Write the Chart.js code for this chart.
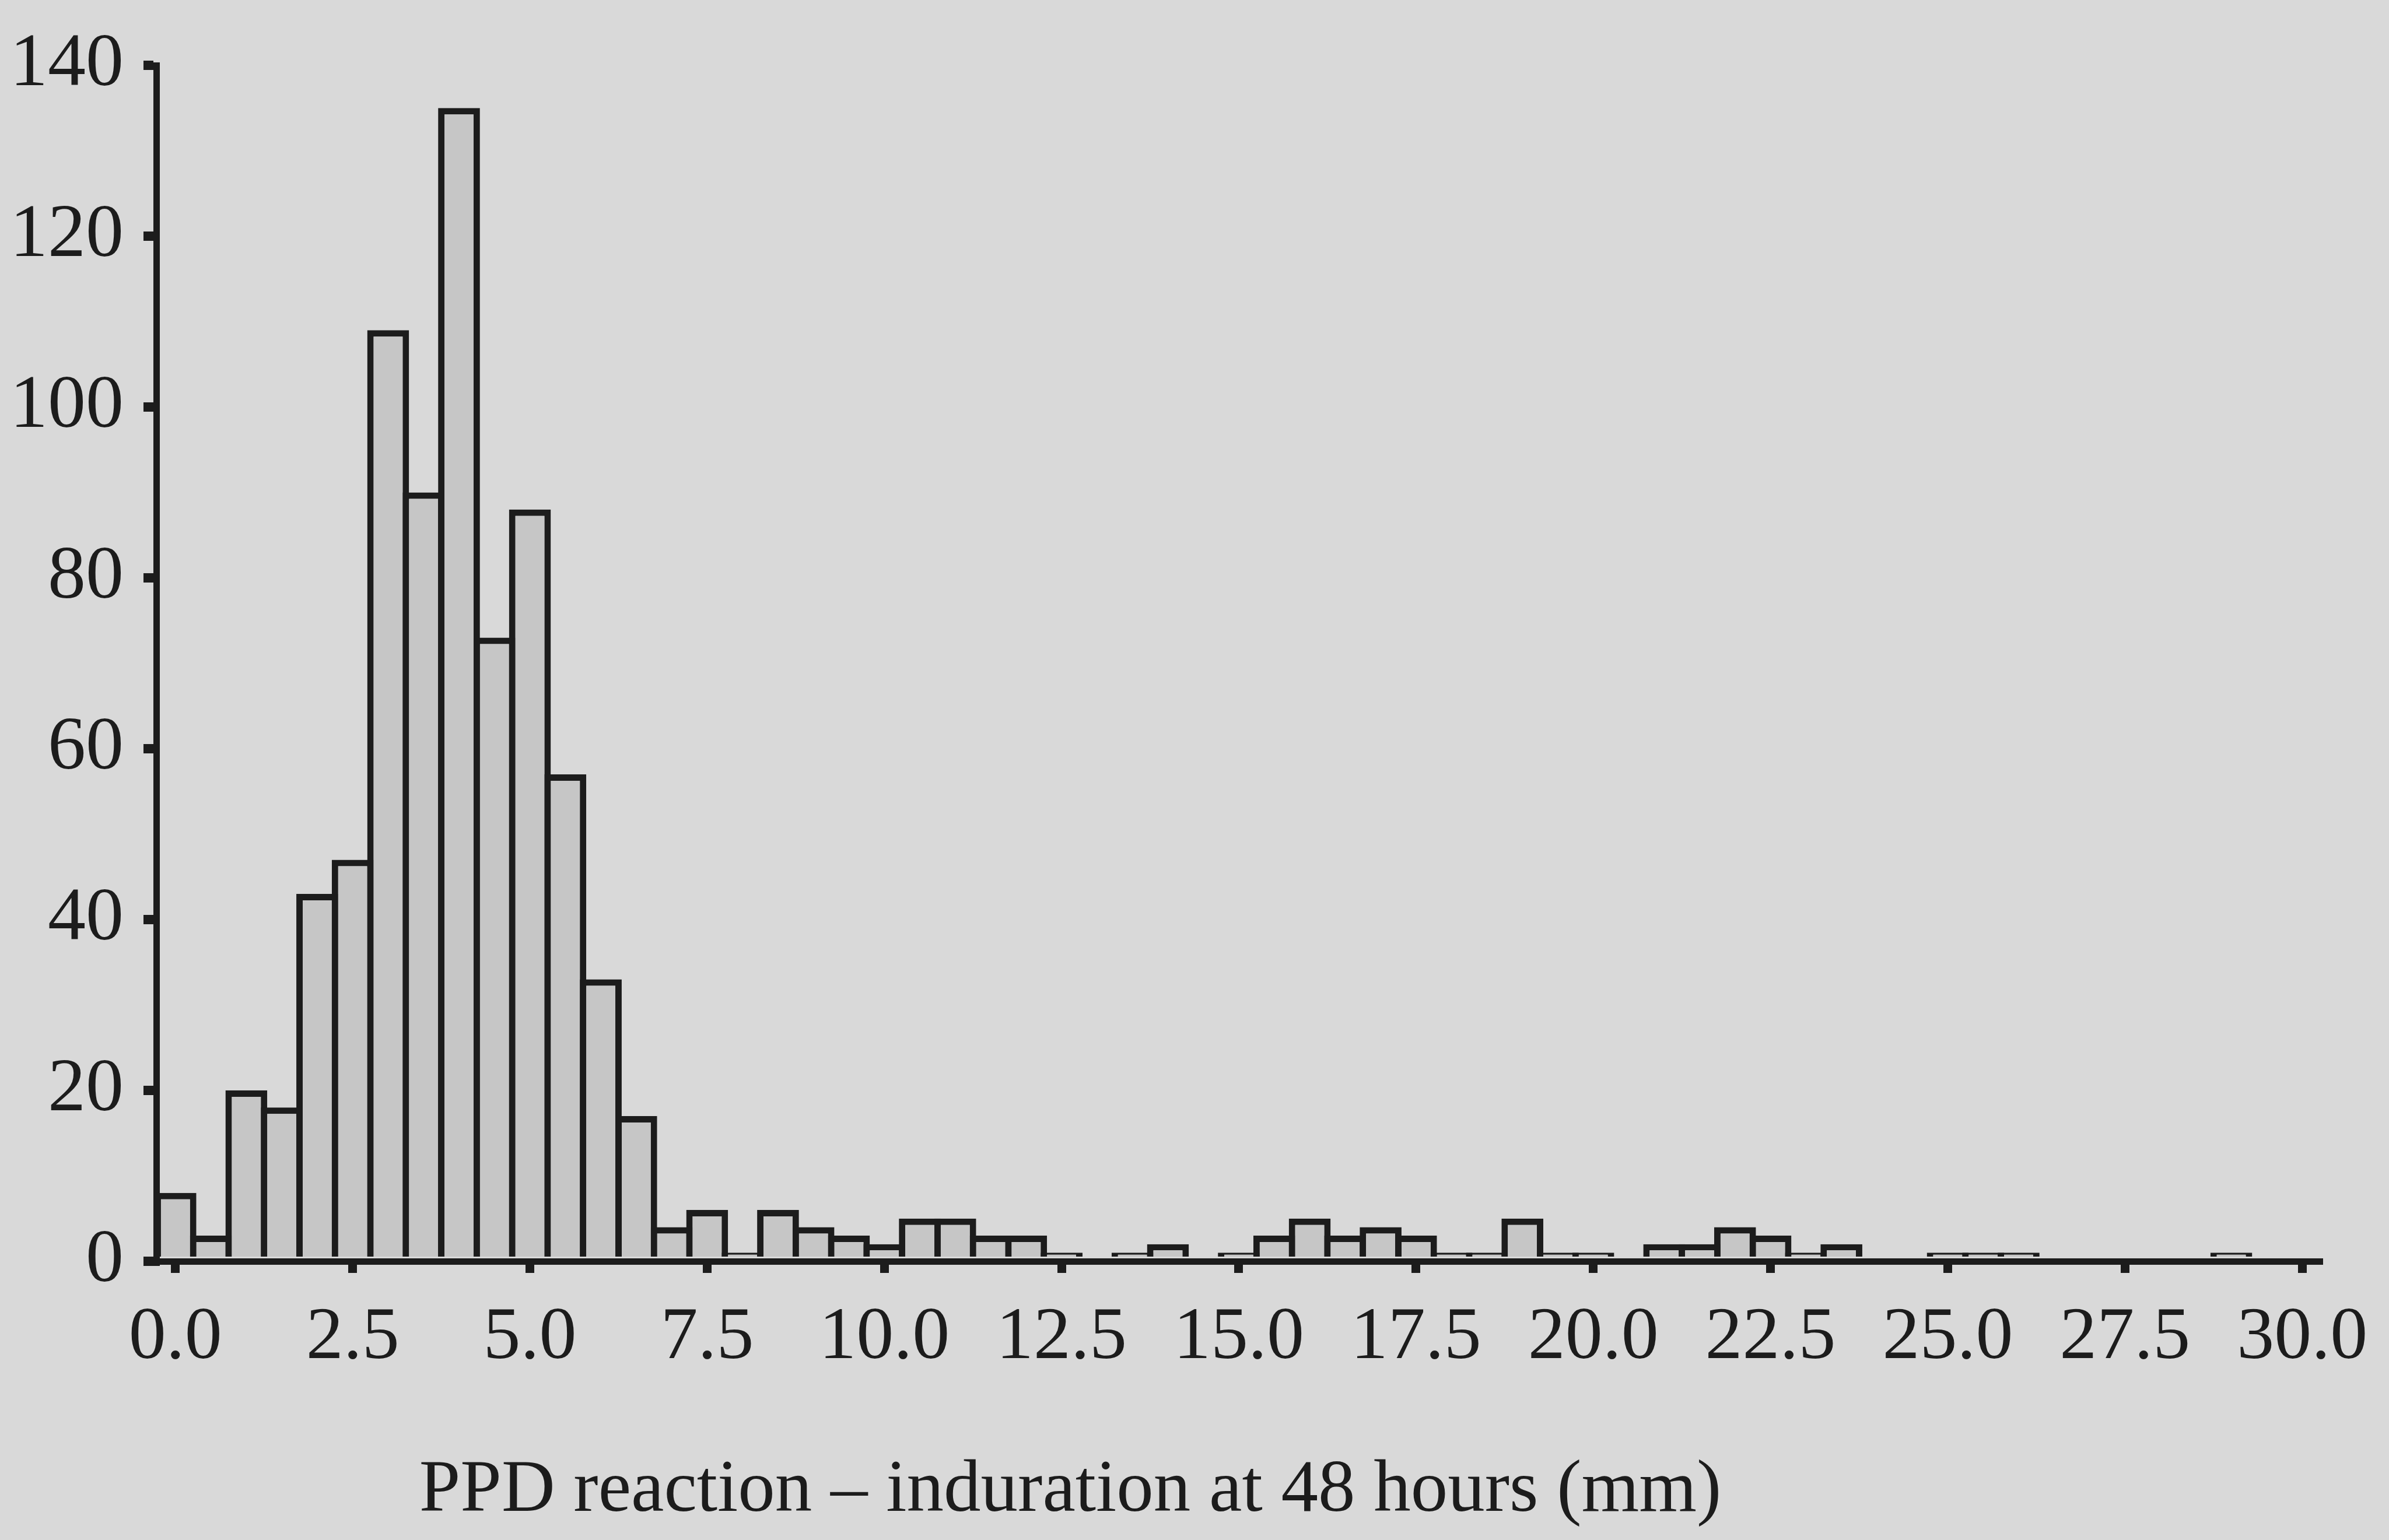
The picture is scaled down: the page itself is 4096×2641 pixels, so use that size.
<!DOCTYPE html>
<html>
<head>
<meta charset="utf-8">
<title>PPD reaction histogram</title>
<script src="https://cdn.jsdelivr.net/npm/chart.js@4.4.1/dist/chart.umd.min.js"></script>
<style>
  html, body { margin: 0; padding: 0; background: #d9d9d9; }
  canvas { display: block; }
</style>
</head>
<body>
<canvas id="histogram" width="4096" height="2641"></canvas>
<script>
// bin centres (mm), each bin is 0.5 mm wide
var binCentres = [
  0.0, 0.5, 1.0, 1.5, 2.0, 2.5, 3.0, 3.5, 4.0, 4.5,
  5.0, 5.5, 6.0, 6.5, 7.0, 7.5, 8.0, 8.5, 9.0, 9.5,
  10.0, 10.5, 11.0, 11.5, 12.0, 12.5, 13.0, 13.5, 14.0, 14.5,
  15.0, 15.5, 16.0, 16.5, 17.0, 17.5, 18.0, 18.5, 19.0, 19.5,
  20.0, 20.5, 21.0, 21.5, 22.0, 22.5, 23.0, 23.5, 24.0, 24.5,
  25.0, 25.5, 26.0, 26.5, 27.0, 27.5, 28.0, 28.5, 29.0, 29.5,
  30.0
];

// number of subjects per bin
var counts = [
  8, 3, 20, 18, 43, 47, 109, 90, 135, 73,
  88, 57, 33, 17, 4, 6, 1, 6, 4, 3,
  2, 5, 5, 3, 3, 1, 0, 1, 2, 0,
  1, 3, 5, 3, 4, 3, 1, 1, 5, 1,
  1, 0, 2, 2, 4, 3, 1, 2, 0, 0,
  1, 1, 1, 0, 0, 0, 0, 0, 1, 0,
  0
];

var yTickStep = 20;
var xTickStep = 2.5;
var xAxisTitle = 'PPD reaction \u2013 induration at 48 hours (mm)';

var ink = '#1c1c1c';
var paper = '#d9d9d9';
var barFill = '#c6c6c6';
var serif = '"Liberation Serif", "Times New Roman", serif';

var points = [];
for (var i = 0; i < binCentres.length; i++) {
  points.push({x: binCentres[i], y: counts[i]});
}

// grey page behind everything
var paperPlugin = {
  id: 'paper',
  beforeDraw: function(chart) {
    var ctx = chart.ctx;
    ctx.save();
    ctx.fillStyle = paper;
    ctx.fillRect(0, 0, chart.width, chart.height);
    ctx.restore();
  }
};

// x axis title sits left of centre in the original, so draw it by hand
var axisTitlePlugin = {
  id: 'axisTitle',
  afterDraw: function(chart) {
    var ctx = chart.ctx;
    ctx.save();
    ctx.fillStyle = ink;
    ctx.font = '127px ' + serif;
    ctx.textAlign = 'center';
    ctx.textBaseline = 'alphabetic';
    ctx.fillText(xAxisTitle, 1835, 2591);
    ctx.restore();
  }
};

var ctx = document.getElementById('histogram').getContext('2d');
var myHist = new Chart(ctx, {
  type: 'bar',
  data: {
    datasets: [{
      data: points,
      backgroundColor: barFill,
      borderColor: ink,
      borderWidth: {top: 11, left: 11, right: 11, bottom: 0},
      borderSkipped: 'start',
      categoryPercentage: 1.0,
      barPercentage: 1.18   // bars overlap by one border so shared edges stay single
    }]
  },
  options: {
    responsive: false,
    animation: false,
    devicePixelRatio: 1,
    layout: {
      padding: {top: 73, right: 112, left: 0, bottom: 0}
    },
    plugins: {
      legend: {display: false},
      tooltip: {enabled: false}
    },
    scales: {
      x: {
        type: 'linear',
        offset: false,
        min: -0.27,
        max: 30.23,
        z: 1,
        afterFit: function(scale) { scale.height = 478; },
        border: {display: true, color: ink, width: 11},
        grid: {
          display: true,
          offset: false,
          drawOnChartArea: false,
          drawTicks: true,
          lineWidth: 15,
          tickLength: 20,
          tickWidth: 15,
          tickColor: ink
        },
        ticks: {
          stepSize: xTickStep,
          includeBounds: false,
          autoSkip: false,
          maxRotation: 0,
          padding: 36,
          color: ink,
          font: {family: serif, size: 128},
          callback: function(v) { return v.toFixed(1); }
        }
      },
      y: {
        min: 0,
        max: 140,
        z: 1,
        afterFit: function(scale) { scale.width = 268; },
        border: {display: true, color: ink, width: 11},
        grid: {
          display: true,
          drawOnChartArea: false,
          drawTicks: true,
          lineWidth: 16,
          tickLength: 22,
          tickWidth: 16,
          tickColor: ink
        },
        ticks: {
          stepSize: yTickStep,
          padding: 34,
          color: ink,
          font: {family: serif, size: 130}
        }
      }
    }
  },
  plugins: [paperPlugin, axisTitlePlugin]
});
</script>
</body>
</html>
